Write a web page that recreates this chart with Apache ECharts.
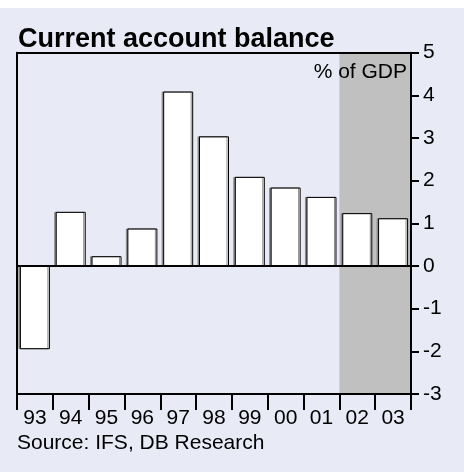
<!DOCTYPE html>
<html>
<head>
<meta charset="utf-8">
<script src="https://cdn.jsdelivr.net/npm/echarts@6/dist/echarts.min.js"></script>
<style>
  html, body { margin: 0; padding: 0; background: #ffffff; }
  #chart { position: absolute; left: 0; top: 8px; width: 464px; height: 464px; }
</style>
</head>
<body>
<div id="chart"></div>
<script>
// Current account balance, % of GDP
const years = ['93', '94', '95', '96', '97', '98', '99', '00', '01', '02', '03'];
const balance = [-1.95, 1.27, 0.23, 0.88, 4.09, 3.04, 2.09, 1.84, 1.62, 1.24, 1.12];
const yTicks = { min: -3, max: 5, step: 1 };
const forecastFrom = '02';

const FONT = "'Liberation Sans', Arial, sans-serif";
const chart = echarts.init(document.getElementById('chart'));

const shadeStart = years.indexOf(forecastFrom);
const shadeEnd = years.length;

chart.setOption({
  backgroundColor: '#E8EAF6',
  animation: false,
  textStyle: { fontFamily: FONT },
  title: [
    {
      text: 'Current account balance',
      left: 13, top: 13,
      textStyle: { fontFamily: FONT, fontSize: 27, fontWeight: 'bold', color: '#000' }
    },
    {
      text: 'Source: IFS, DB Research',
      left: 12, top: 420,
      textStyle: { fontFamily: FONT, fontSize: 21, fontWeight: 'normal', color: '#000' }
    }
  ],
  graphic: [
    {
      type: 'text', right: 57, top: 54, z: 20,
      style: { text: '% of GDP', font: "21px 'Liberation Sans', Arial, sans-serif", fill: '#000' }
    }
  ],
  grid: { left: 17, right: 53, top: 44.7, bottom: 78 },
  xAxis: [
    {
      type: 'category', data: years, position: 'bottom', z: 10,
      axisLine: { onZero: false, lineStyle: { color: '#000', width: 2 } },
      axisTick: { show: true, interval: 0, length: 16, lineStyle: { color: '#000', width: 2 } },
      axisLabel: { interval: 0, margin: 14, fontSize: 21, color: '#000', fontFamily: FONT }
    },
    {
      type: 'value', min: 0, max: years.length, position: 'top', z: 10,
      axisLine: { show: true, onZero: false, lineStyle: { color: '#000', width: 2 } },
      axisTick: { show: false }, axisLabel: { show: false }, splitLine: { show: false }
    }
  ],
  yAxis: [
    {
      type: 'value', position: 'right', z: 10,
      min: yTicks.min, max: yTicks.max, interval: yTicks.step,
      axisLine: { show: true, onZero: false, lineStyle: { color: '#000', width: 2 } },
      axisTick: { show: true, length: 8, lineStyle: { color: '#000', width: 2 } },
      axisLabel: { margin: 12, fontSize: 21, color: '#000', fontFamily: FONT },
      splitLine: { show: false }
    },
    {
      type: 'value', position: 'left', z: 10,
      min: yTicks.min, max: yTicks.max, interval: yTicks.step,
      axisLine: { show: true, onZero: false, lineStyle: { color: '#000', width: 2 } },
      axisTick: { show: false }, axisLabel: { show: false }, splitLine: { show: false }
    }
  ],
  series: [
    {
      // forecast period shading
      type: 'line', xAxisIndex: 1, yAxisIndex: 0, z: 1, silent: true,
      data: [[shadeStart, yTicks.max], [shadeEnd, yTicks.max]],
      symbol: 'none', lineStyle: { opacity: 0 },
      markArea: {
        silent: true,
        itemStyle: { color: '#C0C0C0' },
        data: [[{ xAxis: shadeStart }, { xAxis: shadeEnd }]]
      }
    },
    {
      type: 'bar', xAxisIndex: 0, yAxisIndex: 0, z: 3,
      data: balance,
      barWidth: 30,
      itemStyle: {
        color: '#ffffff', borderColor: '#000', borderWidth: 1,
        shadowColor: '#8a8a8a', shadowOffsetX: -1.5, shadowOffsetY: 0, shadowBlur: 0
      },
      markLine: {
        silent: true, symbol: 'none', label: { show: false },
        lineStyle: { color: '#000', width: 2, type: 'solid' },
        data: [{ yAxis: 0 }]
      }
    }
  ]
});
</script>
</body>
</html>
